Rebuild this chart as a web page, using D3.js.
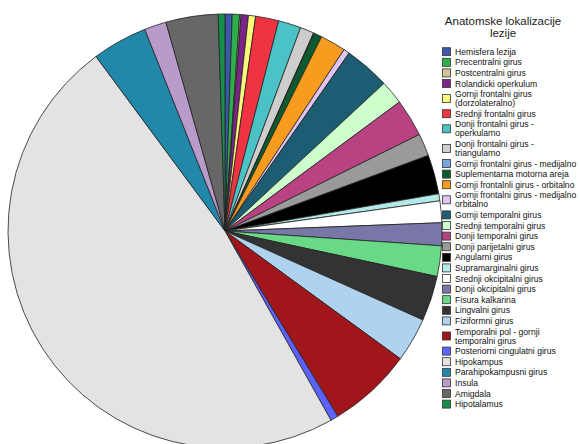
<!DOCTYPE html>
<html>
<head>
<meta charset="utf-8">
<script src="https://cdn.jsdelivr.net/npm/d3@7"></script>
<style>
  html, body { margin: 0; padding: 0; background: #fff; }
  svg { display: block; }
</style>
</head>
<body>
<svg id="chart" width="580" height="444"></svg>
<script>
// Anatomical lesion locations (share of cases, %)
const categories = [
  "Hemisfera lezija",
  "Precentralni girus",
  "Postcentralni girus",
  "Rolandicki operkulum",
  "Gornji frontalni girus (dorzolateralno)",
  "Srednji frontalni girus",
  "Donji frontalni girus - operkularno",
  "Donji frontalni girus - triangularno",
  "Gornji frontalni girus - medijalno",
  "Suplementarna motorna areja",
  "Gornji frontalnli girus - orbitalno",
  "Gornji frontalni girus - medijalno orbitalno",
  "Gornji temporalni girus",
  "Srednji temporalni girus",
  "Donji temporalni girus",
  "Donji parijetalni girus",
  "Angularni girus",
  "Supramarginalni girus",
  "Srednji okcipitalni girus",
  "Donji okcipitalni girus",
  "Fisura kalkarina",
  "Lingvalni girus",
  "Fiziformni girus",
  "Temporalni pol - gornji temporalni girus",
  "Posteriorni cingulatni girus",
  "Hipokampus",
  "Parahipokampusni girus",
  "Insula",
  "Amigdala",
  "Hipotalamus"
];

// Legend text, wrapped as in the legend box
const legendLines = [
  ["Hemisfera lezija"],
  ["Precentralni girus"],
  ["Postcentralni girus"],
  ["Rolandicki operkulum"],
  ["Gornji frontalni girus", "(dorzolateralno)"],
  ["Srednji frontalni girus"],
  ["Donji frontalni girus -", "operkularno"],
  ["Donji frontalni girus -", "triangularno"],
  ["Gornji frontalni girus - medijalno"],
  ["Suplementarna motorna areja"],
  ["Gornji frontalnli girus - orbitalno"],
  ["Gornji frontalni girus - medijalno", "orbitalno"],
  ["Gornji temporalni girus"],
  ["Srednji temporalni girus"],
  ["Donji temporalni girus"],
  ["Donji parijetalni girus"],
  ["Angularni girus"],
  ["Supramarginalni girus"],
  ["Srednji okcipitalni girus"],
  ["Donji okcipitalni girus"],
  ["Fisura kalkarina"],
  ["Lingvalni girus"],
  ["Fiziformni girus"],
  ["Temporalni pol - gornji", "temporalni girus"],
  ["Posteriorni cingulatni girus"],
  ["Hipokampus"],
  ["Parahipokampusni girus"],
  ["Insula"],
  ["Amigdala"],
  ["Hipotalamus"]
];

const values = [
  0.53, 0.55, 0.10, 0.55, 0.53, 1.72, 1.69, 1.03, 0.05, 0.60,
  1.90, 0.45, 3.40, 1.78, 2.80, 1.67, 2.92, 0.53, 1.61, 1.70,
  2.28, 3.36, 3.30, 6.28, 0.58, 48.03, 4.11, 1.64, 3.89, 0.50
];

const colors = [
  "#3d57ab", "#2db04b", "#d3c697", "#7b2589", "#fbf97a",
  "#ef3340", "#4bc3c6", "#cdcdcd", "#79a6dc", "#0d5a2e",
  "#f79c1e", "#e0c4f2", "#1d5d73", "#ccffcc", "#b94283",
  "#9a9a9a", "#000000", "#b4e9e9", "#ffffff", "#7877a8",
  "#6ad987", "#333333", "#afd3ef", "#a1161b", "#5b62ff",
  "#e3e3e3", "#2188aa", "#b99bcb", "#676767", "#168f4a"
];

const legendTitle = ["Anatomske lokalizacije", "lezije"];

const svg = d3.select("#chart");

// ---- Pie ----
const cx = 225, cy = 231, radius = 217;

const pie = d3.pie().sort(null).value(d => d.value);
const arc = d3.arc().innerRadius(0).outerRadius(radius);

const data = categories.map((c, i) => ({ name: c, value: values[i], color: colors[i] }));

const g = svg.append("g").attr("transform", `translate(${cx},${cy})`);

g.selectAll("path.slice")
  .data(pie(data))
  .join("path")
  .attr("class", "slice")
  .attr("d", arc)
  .attr("fill", d => d.data.color)
  .attr("stroke", "#222")
  .attr("stroke-width", 0.8)
  .attr("stroke-linejoin", "round");

// ---- Legend ----
const legend = svg.append("g").attr("class", "legend");

legend.selectAll("text.ltitle")
  .data(legendTitle)
  .join("text")
  .attr("class", "ltitle")
  .attr("x", 503)
  .attr("y", (d, i) => 25 + i * 12)
  .attr("text-anchor", "middle")
  .attr("font-family", "Liberation Sans, Arial, sans-serif")
  .attr("font-size", 11.5)
  .attr("fill", "#222")
  .text(d => d);

const rowStep = 10.6, extraLine = 9;
let yc = 51.7;
legendLines.forEach((lines, i) => {
  if (i > 0) {
    const prevExtra = (legendLines[i - 1].length - 1) * extraLine / 2;
    const curExtra = (lines.length - 1) * extraLine / 2;
    yc += rowStep + prevExtra + curExtra;
  }
  const item = legend.append("g").attr("transform", `translate(0,${yc})`);
  item.append("rect")
    .attr("x", 442.5).attr("y", -4)
    .attr("width", 8).attr("height", 8)
    .attr("fill", colors[i])
    .attr("stroke", "#333").attr("stroke-width", 0.8);
  const n = lines.length;
  item.selectAll("text")
    .data(lines)
    .join("text")
    .attr("x", 455)
    .attr("y", (d, j) => (j - (n - 1) / 2) * extraLine + 3)
    .attr("font-family", "Liberation Sans, Arial, sans-serif")
    .attr("font-size", 8.6)
    .attr("fill", "#111")
    .text(d => d);
});
</script>
</body>
</html>
